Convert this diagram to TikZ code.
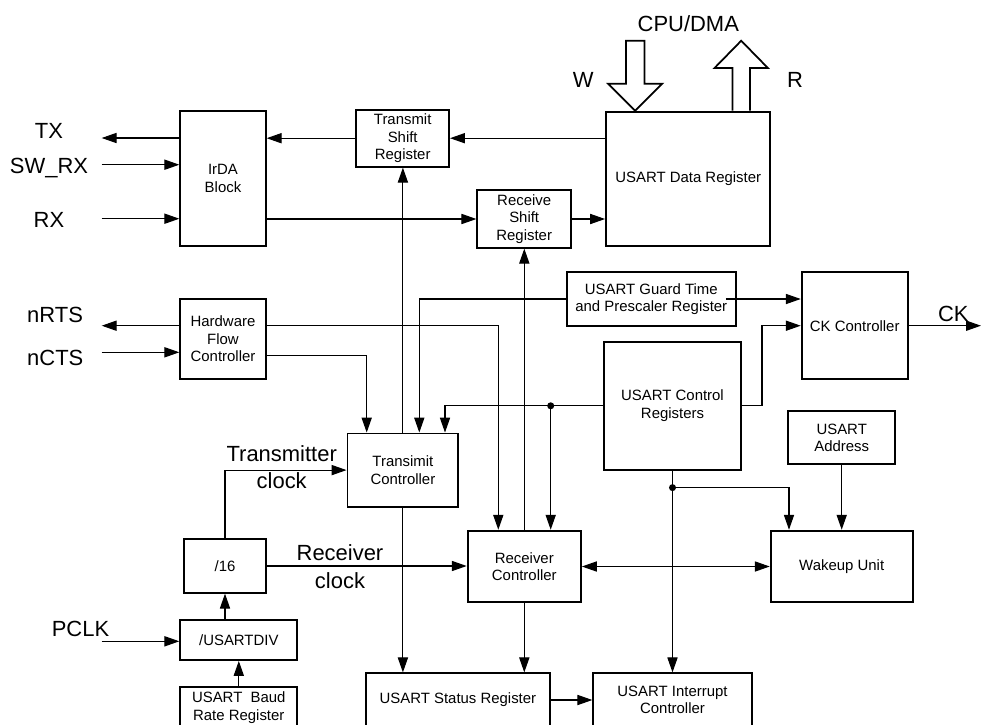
\documentclass[tikz,border=0pt]{standalone}
\usepackage{fontspec}
\setmainfont{Liberation Sans}
\usetikzlibrary{calc,arrows.meta}

\tikzset{
	blk/.style={draw, line width=1.1pt, align=center, inner sep=1pt, font=\fontsize{8.5}{10}\selectfont},
	sz/.style 2 args={minimum width=#1*0.02cm, minimum height=#2*0.02cm},
	sig/.style={inner sep=0pt, align=center, font=\fontsize{12.5}{15.7}\selectfont},
}

\begin{document}
\begin{tikzpicture}[x=0.02cm, y=-0.02cm, line width=0.6pt, >={Triangle[length=8.5pt,width=5.8pt]}]
			\useasboundingbox (0,0) rectangle (981,724);
			\node[blk, sz={85.4}{134.4}] (irda) at (223,178.5) {IrDA\\Block};
			\node[blk, sz={92.7}{57}] (tsr) at (402.7,138.2) {Transmit\\Shift\\Register};
			\node[blk, sz={164.3}{134}] (dr) at (688.2,178.7) {USART Data Register};
			\node[blk, sz={93.7}{57.4}] (rsr) at (524.2,219) {Receive\\Shift\\Register};
			\node[blk, sz={85.4}{80.3}] (hfc) at (223,338.8) {Hardware\\Flow\\Controller};
			\node[blk, sz={169.3}{53.4}] (gtpr) at (651.3,299) {USART Guard Time\\and Prescaler Register};
			\node[blk, sz={106}{106.7}] (ckc) at (854.7,325.7) {CK Controller};
			\node[blk, sz={137}{128.3}] (cr) at (672.5,405.8) {USART Control\\Registers};
			\node[blk, sz={106.7}{53.3}] (addr) at (841.7,437.7) {USART\\Address};
			\node[blk, sz={110.8}{73.2}] (tc) at (402.9,470.1) {Transimit\\Controller};
			\node[blk, sz={81.4}{53.4}] (div16) at (225,566) {/16};
			\node[blk, sz={113.3}{71.6}] (rc) at (524.3,566.5) {Receiver\\Controller};
			\node[blk, sz={142}{71.6}] (wu) at (841.7,566.5) {Wakeup Unit};
			\node[blk, sz={117}{40}] (bdiv) at (238.8,640) {/USARTDIV};
			\node[blk, sz={117}{42}] (brr) at (238.8,707.7) {USART\ \ Baud\\Rate Register};
			\node[blk, sz={184.3}{53.3}] (sr) at (457.9,700) {USART Status Register};
			\node[blk, sz={158.4}{53.3}] (icr) at (672.5,700) {USART Interrupt\\Controller};

			\node[sig, anchor=base] (tx) at (49,138) {TX};
			\node[sig, anchor=base] (swrx) at (49,173) {SW\_RX};
			\node[sig, anchor=base] (rx) at (49,227) {RX};
			\node[sig, anchor=base west] (nrts) at (26.7,322.3) {nRTS};
			\node[sig, anchor=base west] (ncts) at (26.7,365.7) {nCTS};
			\node[sig, anchor=base] (pclk) at (80.5,636.3) {PCLK};
			\node[sig, anchor=base] (ck) at (953.3,321.3) {CK};
			\node[sig, anchor=base] (cpu) at (688.3,31.3) {CPU/DMA};
			\node[sig, anchor=base] (w) at (583.3,87) {W};
			\node[sig, anchor=base] (r) at (795,87) {R};
			\node[sig] (txclk) at (281.7,467) {Transmitter\\clock};
			\node[sig] (rxclk) at (340,566.7) {Receiver\\clock};

			\coordinate (txo) at (101.7,138);
			\coordinate (swrxi) at (101.7,164.7);
			\coordinate (rxi) at (101.7,218.7);
			\coordinate (nrtso) at (101.7,325.7);
			\coordinate (nctsi) at (101.7,352.3);
			\coordinate (pclki) at (101.7,641.3);
			\coordinate (cko) at (981,325.7);
			\coordinate (rcin) at ($(rc.north)+(26.4,0)$);
			\coordinate (crj) at ($(cr.south)+(0,16.7)$);

			\draw[->] (irda.west |- txo) -- (txo);
			\draw[->] (swrxi) -- (swrxi -| irda.west);
			\draw[->] (rxi) -- (rxi -| irda.west);
			\draw[->] (tsr.west) -- (tsr.west -| irda.east);
			\draw[->] (dr.west |- tsr.east) -- (tsr.east);
			\draw[->] (irda.east |- rsr.west) -- (rsr.west);
			\draw[->] (rsr.east) -- (rsr.east -| dr.west);
			\draw[->] (tc.north) -- (tc.north |- tsr.south);
			\draw[->] (rc.north) -- (rc.north |- rsr.south);

			\draw[->] (hfc.west |- nrtso) -- (nrtso);
			\draw[->] (nctsi) -- (nctsi -| hfc.west);
			\draw[->] (hfc.east |- nrtso) -| ($(rc.north)+(-26,0)$);
			\draw[->] ($(hfc.east)+(0,17)$) -| ($(tc.north)+(-36.2,0)$);
			\draw[->] (gtpr.west) -| ($(tc.north)+(16.4,0)$);
			\draw[->] (cr.west) -| ($(tc.north)+(42.1,0)$);
			\draw[->] (cr.west -| rcin) -- (rcin);
			\fill (cr.west -| rcin) circle (2pt);

			\draw[->] ($(gtpr.east)+(-11,0)$) -- (gtpr.east -| ckc.west);
			\draw[->] (cr.east) -- ++(20,0) |- (ckc.west);
			\draw[->] (ckc.east) -- (cko);

			\draw[->] (cr.south) -- (cr.south |- icr.north);
			\draw[->] (crj) -| ($(wu.north)+(-52.7,0)$);
			\fill (crj) circle (2pt);
			\draw[->] (addr.south) -- (addr.south |- wu.north);
			\draw[<->] (rc.east) -- (wu.west);

			\draw[->] (div16.north) |- (tc.west);
			\draw[->] (div16.east) -- (div16.east -| rc.west);
			\draw[->] (div16.south |- bdiv.north) -- (div16.south);
			\draw[->] (brr.north) -- (bdiv.south);
			\draw[->] (pclki) -- (pclki -| bdiv.west);
			\draw[->] (tc.south) -- (tc.south |- sr.north);
			\draw[->] (rc.south) -- (rc.south |- sr.north);
			\draw[->] (sr.east) -- (sr.east -| icr.west);

			\draw[line width=1pt] ($(dr.north)+(-53,0)$) -- ++(-27,-27) -- ++(17.7,0) -- ++(0,-43) -- ++(18.6,0) -- ++(0,43) -- ++(17.7,0) -- cycle;
			\draw[line width=1pt] ($(dr.north)+(44.3,0)$) -- ++(0,-42.7) -- ++(-18,0) -- ++(26.7,-27.3) -- ++(26.7,27.3) -- ++(-18,0) -- ++(0,42.7);
		\end{tikzpicture}
\end{document}
